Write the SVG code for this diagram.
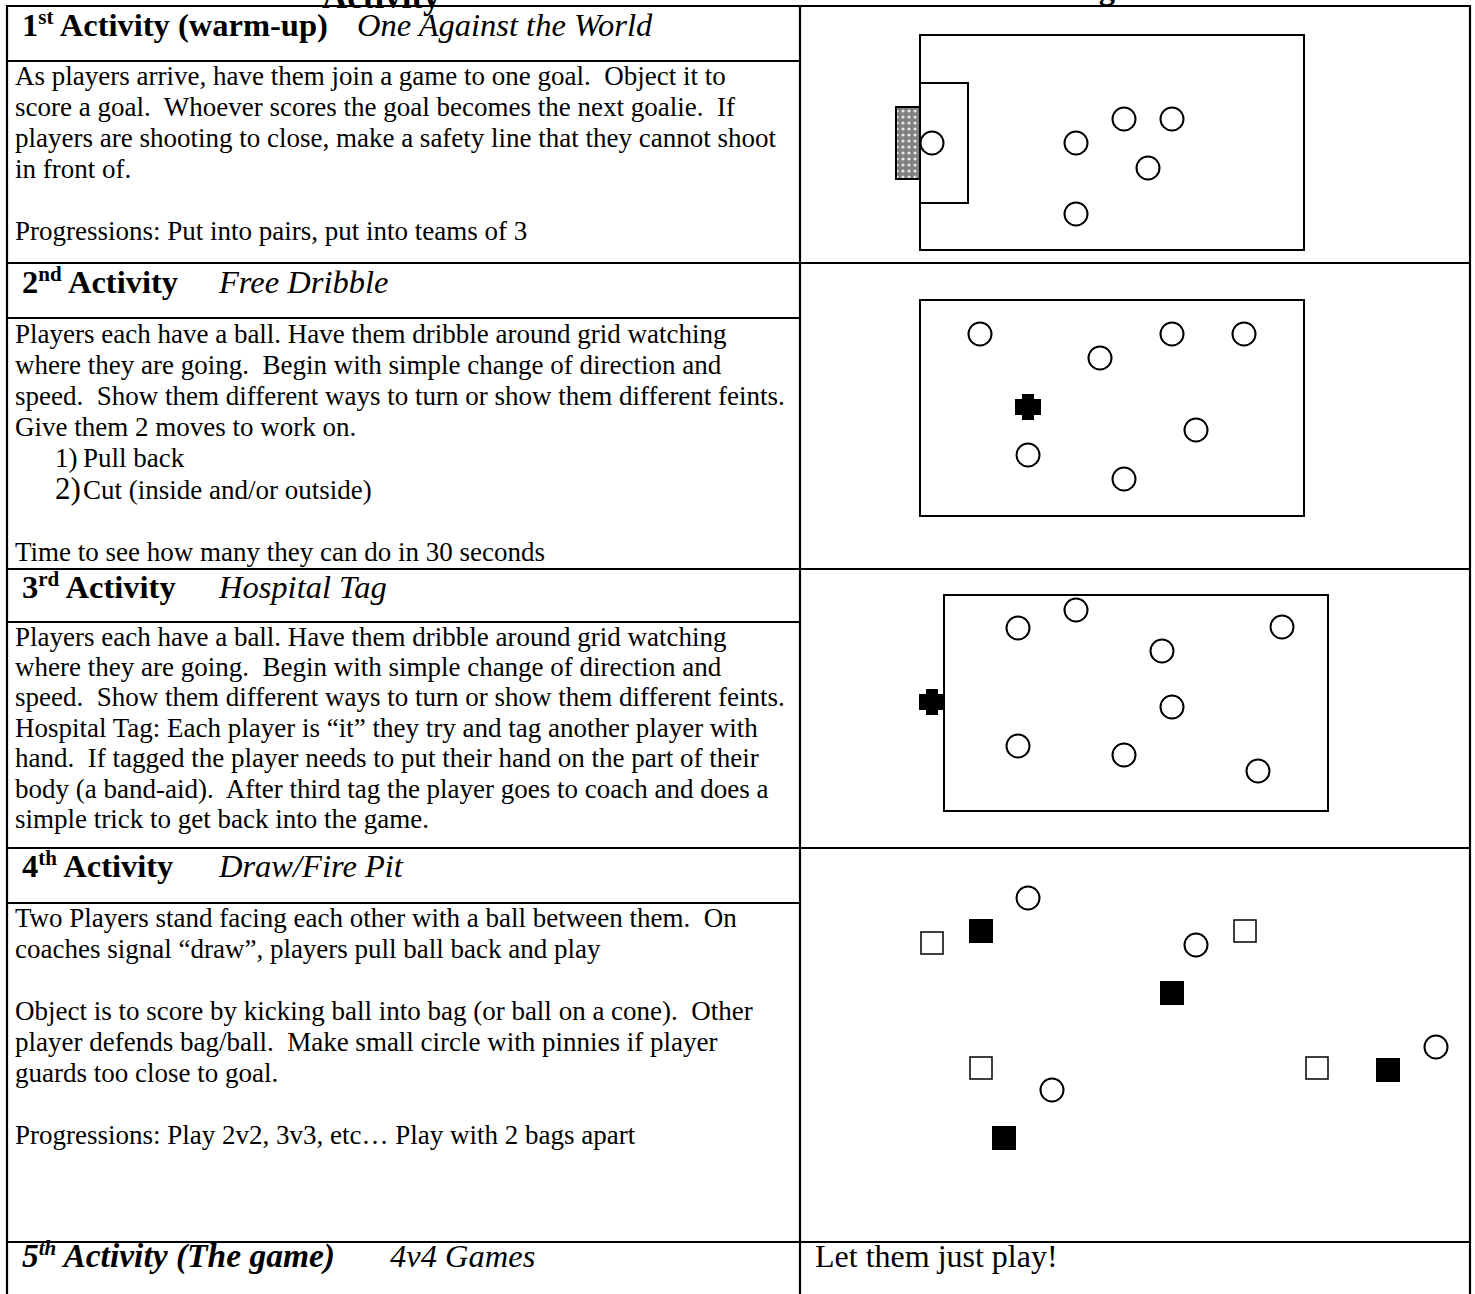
<svg xmlns="http://www.w3.org/2000/svg" width="1475" height="1294" viewBox="0 0 1475 1294">
<style>
text{font-family:"Liberation Serif","Times New Roman",serif;fill:#000}
.t{font-size:27px;white-space:pre}
.h{font-size:32.5px;font-weight:bold}
.hi{font-size:32.5px;font-style:italic}
.sup{font-size:21px;font-weight:bold}
.grid{stroke:#000;stroke-width:2.2;fill:none}
.fld{stroke:#000;stroke-width:2;fill:none}
.pl{stroke:#000;stroke-width:2;fill:#fff}
.sq{stroke:#000;stroke-width:1.5;fill:#fff}
.fs{fill:#000}
</style>
<defs>
<pattern id="hatch" width="6" height="6" patternUnits="userSpaceOnUse">
<rect width="6" height="6" fill="#808080"/>
<circle cx="3" cy="3" r="1.6" fill="#e8e8e8"/>
</pattern>
<path id="cross" d="M-6,-13 H6 V-8 H13 V8 H6 V13 H-6 V8 H-13 V-8 H-6 Z"/>
</defs>

<g id="page-titles">
<text x="322" y="8" font-size="35" font-weight="bold">Activity</text>
<text x="1050" y="-1" class="h">Diagram</text>
</g>

<g id="table">
<line class="grid" x1="6" y1="6" x2="1471" y2="6"/>
<line class="grid" x1="7" y1="5" x2="7" y2="1294"/>
<line class="grid" x1="800" y1="5" x2="800" y2="1294"/>
<line class="grid" x1="1470" y1="5" x2="1470" y2="1294"/>
<line class="grid" x1="7" y1="61" x2="800" y2="61"/>
<line class="grid" x1="6" y1="263" x2="1471" y2="263"/>
<line class="grid" x1="7" y1="318" x2="800" y2="318"/>
<line class="grid" x1="6" y1="569" x2="1471" y2="569"/>
<line class="grid" x1="7" y1="622" x2="800" y2="622"/>
<line class="grid" x1="6" y1="848" x2="1471" y2="848"/>
<line class="grid" x1="7" y1="903" x2="800" y2="903"/>
<line class="grid" x1="6" y1="1242" x2="1471" y2="1242"/>
</g>

<g id="activity1">
<text x="22" y="36" class="h">1<tspan class="sup" dy="-12">st</tspan><tspan dy="12"> Activity (warm-up)</tspan></text>
<text x="357" y="36" class="hi">One Against the World</text>
<text class="t" x="15" y="85">As players arrive, have them join a game to one goal.  Object it to</text>
<text class="t" x="15" y="116">score a goal.  Whoever scores the goal becomes the next goalie.  If</text>
<text class="t" x="15" y="147">players are shooting to close, make a safety line that they cannot shoot</text>
<text class="t" x="15" y="178">in front of.</text>
<text class="t" x="15" y="240">Progressions: Put into pairs, put into teams of 3</text>
</g>

<g id="diagram1">
<rect class="fld" x="920" y="35" width="384" height="215"/>
<rect class="fld" x="920" y="83" width="48" height="120"/>
<rect x="896" y="107" width="24" height="72" fill="url(#hatch)" stroke="#000" stroke-width="2"/>
<circle class="pl" cx="932" cy="143" r="11.5"/>
<circle class="pl" cx="1076" cy="143" r="11.5"/>
<circle class="pl" cx="1124" cy="119" r="11.5"/>
<circle class="pl" cx="1172" cy="119" r="11.5"/>
<circle class="pl" cx="1148" cy="168" r="11.5"/>
<circle class="pl" cx="1076" cy="214" r="11.5"/>
</g>

<g id="activity2">
<text x="22" y="293" class="h">2<tspan class="sup" dy="-12">nd</tspan><tspan dy="12"> Activity</tspan></text>
<text x="219" y="293" class="hi">Free Dribble</text>
<text class="t" x="15" y="343">Players each have a ball. Have them dribble around grid watching</text>
<text class="t" x="15" y="374">where they are going.  Begin with simple change of direction and</text>
<text class="t" x="15" y="405">speed.  Show them different ways to turn or show them different feints.</text>
<text class="t" x="15" y="436">Give them 2 moves to work on.</text>
<text class="t" x="55" y="467">1)<tspan x="83">Pull back</tspan></text>
<text class="t" x="55" y="499"><tspan font-size="31">2)</tspan><tspan x="83">Cut (inside and/or outside)</tspan></text>
<text class="t" x="15" y="561">Time to see how many they can do in 30 seconds</text>
</g>

<g id="diagram2">
<rect class="fld" x="920" y="300" width="384" height="216"/>
<circle class="pl" cx="980" cy="334" r="11.5"/>
<circle class="pl" cx="1100" cy="358" r="11.5"/>
<circle class="pl" cx="1172" cy="334" r="11.5"/>
<circle class="pl" cx="1244" cy="334" r="11.5"/>
<circle class="pl" cx="1196" cy="430" r="11.5"/>
<circle class="pl" cx="1028" cy="455" r="11.5"/>
<circle class="pl" cx="1124" cy="479" r="11.5"/>
<use href="#cross" x="1028" y="407" class="fs"/>
</g>

<g id="activity3">
<text x="22" y="598" class="h">3<tspan class="sup" dy="-12">rd</tspan><tspan dy="12"> Activity</tspan></text>
<text x="219" y="598" class="hi">Hospital Tag</text>
<text class="t" x="15" y="646">Players each have a ball. Have them dribble around grid watching</text>
<text class="t" x="15" y="676">where they are going.  Begin with simple change of direction and</text>
<text class="t" x="15" y="706">speed.  Show them different ways to turn or show them different feints.</text>
<text class="t" x="15" y="737">Hospital Tag: Each player is “it” they try and tag another player with</text>
<text class="t" x="15" y="767">hand.  If tagged the player needs to put their hand on the part of their</text>
<text class="t" x="15" y="798">body (a band-aid).  After third tag the player goes to coach and does a</text>
<text class="t" x="15" y="828">simple trick to get back into the game.</text>
</g>

<g id="diagram3">
<rect class="fld" x="944" y="595" width="384" height="216"/>
<circle class="pl" cx="1076" cy="610" r="11.5"/>
<circle class="pl" cx="1018" cy="628" r="11.5"/>
<circle class="pl" cx="1162" cy="651" r="11.5"/>
<circle class="pl" cx="1282" cy="627" r="11.5"/>
<circle class="pl" cx="1172" cy="707" r="11.5"/>
<circle class="pl" cx="1018" cy="746" r="11.5"/>
<circle class="pl" cx="1124" cy="755" r="11.5"/>
<circle class="pl" cx="1258" cy="771" r="11.5"/>
<use href="#cross" x="932" y="702" class="fs"/>
</g>

<g id="activity4">
<text x="22" y="877" class="h">4<tspan class="sup" dy="-12">th</tspan><tspan dy="12"> Activity</tspan></text>
<text x="219" y="877" class="hi">Draw/Fire Pit</text>
<text class="t" x="15" y="927">Two Players stand facing each other with a ball between them.  On</text>
<text class="t" x="15" y="958">coaches signal “draw”, players pull ball back and play</text>
<text class="t" x="15" y="1020">Object is to score by kicking ball into bag (or ball on a cone).  Other</text>
<text class="t" x="15" y="1051">player defends bag/ball.  Make small circle with pinnies if player</text>
<text class="t" x="15" y="1082">guards too close to goal.</text>
<text class="t" x="15" y="1144">Progressions: Play 2v2, 3v3, etc… Play with 2 bags apart</text>
</g>

<g id="diagram4">
<circle class="pl" cx="1028" cy="898" r="11.5"/>
<circle class="pl" cx="1196" cy="945" r="11.5"/>
<circle class="pl" cx="1436" cy="1047" r="11.5"/>
<circle class="pl" cx="1052" cy="1090" r="11.5"/>
<rect class="fs" x="969" y="919" width="24" height="24"/>
<rect class="fs" x="1160" y="981" width="24" height="24"/>
<rect class="fs" x="1376" y="1058" width="24" height="24"/>
<rect class="fs" x="992" y="1126" width="24" height="24"/>
<rect class="sq" x="921" y="932" width="22" height="22"/>
<rect class="sq" x="1234" y="920" width="22" height="22"/>
<rect class="sq" x="970" y="1057" width="22" height="22"/>
<rect class="sq" x="1306" y="1057" width="22" height="22"/>
</g>

<g id="activity5">
<text x="22" y="1267" font-size="33.5" font-weight="bold" font-style="italic">5<tspan font-size="21" dy="-12">th</tspan><tspan dy="12"> Activity (The game)</tspan></text>
<text x="390" y="1267" class="hi">4v4 Games</text>
<text x="815" y="1267" font-size="32">Let them just play!</text>
</g>
</svg>
